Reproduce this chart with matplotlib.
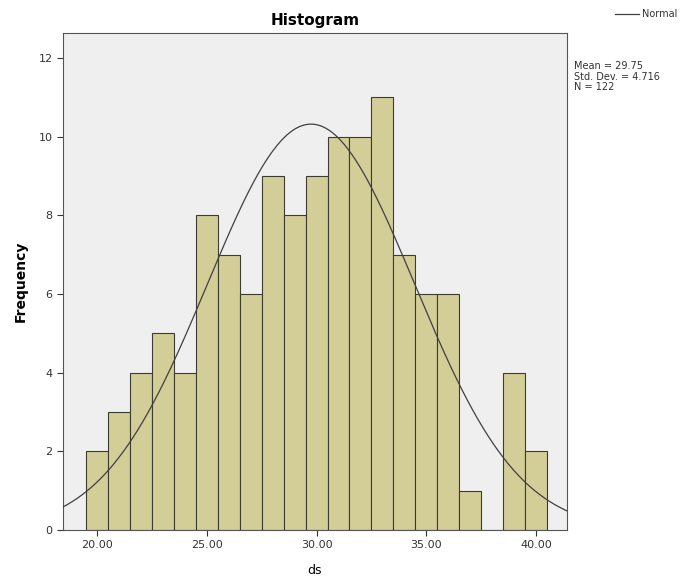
import numpy as np
import matplotlib.pyplot as plt

# bin centres and counts
bin_centers = [20, 21, 22, 23, 24, 25, 26, 27, 28, 29, 30,
               31, 32, 33, 34, 35, 36, 37, 38, 39, 40]
counts = [2, 3, 4, 5, 4, 8, 7, 6, 9, 8, 9,
          10, 10, 11, 7, 6, 6, 1, 0, 4, 2]
mean = 29.75
sd = 4.716
n = 122
x_ticks = [20, 25, 30, 35, 40]
y_ticks = [0, 2, 4, 6, 8, 10, 12]

fig = plt.figure(figsize=(6.87, 5.84), dpi=100)
ax = fig.add_axes([0.0917, 0.0925, 0.7333, 0.8505])
ax.set_facecolor("#efefef")

ax.bar(bin_centers, counts, width=1.0, color="#d3cd98",
       edgecolor="#3c3c30", linewidth=0.8, zorder=2)

xs = np.linspace(18.4, 41.4, 400)
pdf = np.exp(-0.5 * ((xs - mean) / sd) ** 2) / (sd * np.sqrt(2 * np.pi))
ax.plot(xs, n * 1.0 * pdf, color="#404040", linewidth=0.9, zorder=3)

ax.set_xlim(18.45, 41.4)
ax.set_ylim(0, 12.63)
ax.set_xticks(x_ticks)
ax.set_xticklabels(["%.2f" % t for t in x_ticks])
ax.set_yticks(y_ticks)
ax.tick_params(direction="out", length=4, width=0.8, labelsize=8,
               colors="#333333")
for s in ax.spines.values():
    s.set_color("#555555")
    s.set_linewidth(0.8)

ax.set_title("Histogram", fontsize=11, fontweight="bold", pad=6)
ax.set_ylabel("Frequency", fontsize=10, fontweight="bold", labelpad=8)
ax.set_xlabel("ds", fontsize=9, labelpad=10)

fig.text(0.835, 0.895, "Mean = %.2f\nStd. Dev. = %.3f\nN = %d" % (mean, sd, n),
         fontsize=7, va="top", ha="left", color="#333333", linespacing=1.05)
fig.lines.append(plt.Line2D([0.895, 0.93], [0.976, 0.976],
                            transform=fig.transFigure, color="#404040",
                            linewidth=0.9))
fig.text(0.935, 0.976, "Normal", fontsize=7, va="center", ha="left",
         color="#333333")

fig.savefig("out.png", dpi=100, facecolor="white")
